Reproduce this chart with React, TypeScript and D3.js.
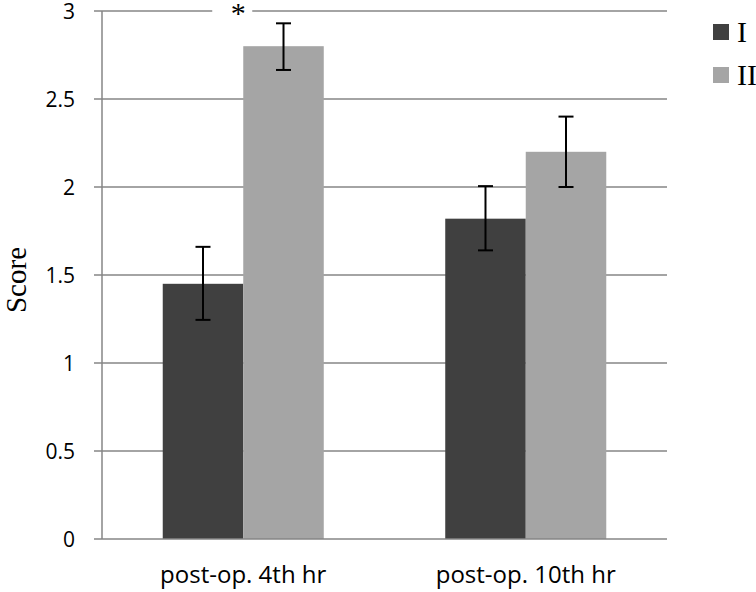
import React, { useEffect, useRef } from "react";
import * as d3 from "d3";

const categories = ["post-op. 4th hr", "post-op. 10th hr"];
const seriesNames = ["I", "II"];
const meansI = [1.45, 1.82];
const meansII = [2.8, 2.2];
const errLowI = [1.245, 1.64];
const errHighI = [1.66, 2.005];
const errLowII = [2.665, 2.0];
const errHighII = [2.93, 2.4];
const yTicks = [0, 0.5, 1, 1.5, 2, 2.5, 3];

const colors = { I: "#404040", II: "#a5a5a5" };

export default function App() {
  const svgRef = useRef(null);

  useEffect(() => {
    const svg = d3.select(svgRef.current);
    svg.selectAll("*").remove();

    const left = 102;
    const right = 667;
    const top = 11;
    const bottom = 539;

    const x0 = d3
      .scaleBand()
      .domain(categories)
      .range([left, right])
      .paddingInner(0.43)
      .paddingOuter(0.215);
    const x1 = d3.scaleBand().domain(seriesNames).range([0, x0.bandwidth()]);
    const y = d3.scaleLinear().domain([0, 3]).range([bottom, top]);

    const rows = [];
    categories.forEach((c, i) => {
      rows.push({ cat: c, key: "I", v: meansI[i], lo: errLowI[i], hi: errHighI[i] });
      rows.push({ cat: c, key: "II", v: meansII[i], lo: errLowII[i], hi: errHighII[i] });
    });

    const gridColor = "#868686";

    // gridlines
    svg
      .append("g")
      .selectAll("line")
      .data(yTicks.filter((t) => t > 0))
      .enter()
      .append("line")
      .attr("x1", left)
      .attr("x2", right)
      .attr("y1", (d) => y(d))
      .attr("y2", (d) => y(d))
      .attr("stroke", gridColor)
      .attr("stroke-width", 1.5);

    // bars
    svg
      .append("g")
      .selectAll("rect")
      .data(rows)
      .enter()
      .append("rect")
      .attr("x", (d) => x0(d.cat) + x1(d.key))
      .attr("y", (d) => y(d.v))
      .attr("width", x1.bandwidth())
      .attr("height", (d) => y(0) - y(d.v))
      .attr("fill", (d) => colors[d.key]);

    // error bars
    const eg = svg.append("g").attr("stroke", "#000").attr("stroke-width", 2);
    rows.forEach((d) => {
      const cx = x0(d.cat) + x1(d.key) + x1.bandwidth() / 2;
      eg.append("line").attr("x1", cx).attr("x2", cx).attr("y1", y(d.lo)).attr("y2", y(d.hi));
      eg.append("line").attr("x1", cx - 7.5).attr("x2", cx + 7.5).attr("y1", y(d.lo)).attr("y2", y(d.lo));
      eg.append("line").attr("x1", cx - 7.5).attr("x2", cx + 7.5).attr("y1", y(d.hi)).attr("y2", y(d.hi));
    });

    // y axis
    const yAxis = svg.append("g");
    yAxis
      .append("line")
      .attr("x1", left)
      .attr("x2", left)
      .attr("y1", y(3))
      .attr("y2", y(0))
      .attr("stroke", gridColor)
      .attr("stroke-width", 1.5);
    yAxis
      .selectAll(".tick")
      .data(yTicks)
      .enter()
      .append("line")
      .attr("x1", left - 8)
      .attr("x2", left)
      .attr("y1", (d) => y(d))
      .attr("y2", (d) => y(d))
      .attr("stroke", gridColor)
      .attr("stroke-width", 1.5);
    yAxis
      .selectAll("text")
      .data(yTicks)
      .enter()
      .append("text")
      .attr("x", 75)
      .attr("y", (d) => y(d) + 1)
      .attr("dy", "0.35em")
      .attr("text-anchor", "end")
      .style("font-family", "'Open Sans', sans-serif")
      .style("font-size", "21px")
      .attr("fill", "#000")
      .text((d) => d3.format("")(d));

    // x axis
    svg
      .append("line")
      .attr("x1", left)
      .attr("x2", right)
      .attr("y1", y(0))
      .attr("y2", y(0))
      .attr("stroke", gridColor)
      .attr("stroke-width", 1.5);
    svg
      .append("g")
      .selectAll("text")
      .data(categories)
      .enter()
      .append("text")
      .attr("x", (d) => x0(d) + x0.bandwidth() / 2)
      .attr("y", 583)
      .attr("text-anchor", "middle")
      .style("font-family", "'Open Sans', sans-serif")
      .style("font-size", "24px")
      .attr("fill", "#000")
      .text((d) => d);

    // y title
    svg
      .append("text")
      .attr("transform", `translate(26, ${(top + bottom) / 2 + 5}) rotate(-90)`)
      .attr("text-anchor", "middle")
      .style("font-family", "'Liberation Serif', 'Times New Roman', serif")
      .style("font-size", "29px")
      .attr("fill", "#000")
      .text("Score");

    // significance marker
    const ax = x0(categories[0]) + x1("II") - 5;
    svg.append("rect").attr("x", ax - 26).attr("y", 0).attr("width", 40).attr("height", 20).attr("fill", "#fff");
    svg
      .append("text")
      .attr("x", ax)
      .attr("y", 23)
      .attr("text-anchor", "middle")
      .style("font-family", "'Liberation Serif', 'Times New Roman', serif")
      .style("font-size", "30px")
      .attr("fill", "#000")
      .text("*");

    // legend
    const lg = svg.append("g");
    seriesNames.forEach((s, i) => {
      const cy = 32 + i * 43;
      lg.append("rect").attr("x", 713).attr("y", cy - 8).attr("width", 16).attr("height", 16).attr("fill", colors[s]);
      lg.append("text")
        .attr("x", 737)
        .attr("y", cy + 10)
        .style("font-family", "'Liberation Serif', 'Times New Roman', serif")
        .style("font-size", "30px")
        .attr("fill", "#000")
        .text(s);
    });
  }, []);

  return (
    <svg
      ref={svgRef}
      width={756}
      height={592}
      style={{ position: "absolute", left: 0, top: 0, background: "#fff" }}
    ></svg>
  );
}
